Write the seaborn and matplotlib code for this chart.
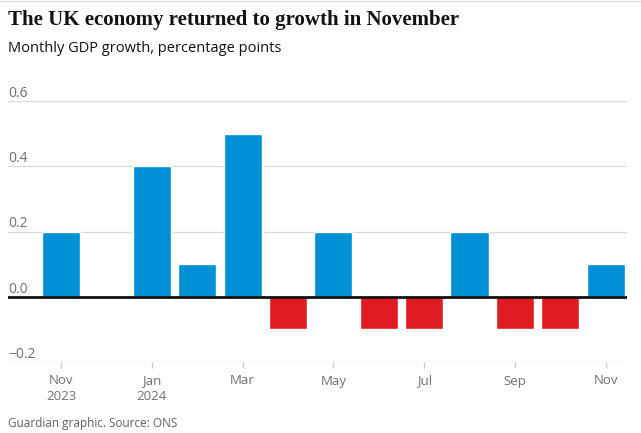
import matplotlib
matplotlib.use("Agg")
import matplotlib.pyplot as plt
import seaborn as sns
import pandas as pd

months = ["Nov 2023", "Dec 2023", "Jan 2024", "Feb 2024", "Mar 2024", "Apr 2024", "May 2024",
          "Jun 2024", "Jul 2024", "Aug 2024", "Sep 2024", "Oct 2024", "Nov 2024"]
growth = [0.2, 0.0, 0.4, 0.1, 0.5, -0.1, 0.2, -0.1, -0.1, 0.2, -0.1, -0.1, 0.1]
tick_labels = ["Nov\n2023", "", "Jan\n2024", "", "Mar", "", "May", "", "Jul", "", "Sep", "", "Nov"]
y_ticks = [-0.2, 0.0, 0.2, 0.4, 0.6]
y_tick_labels = ["\u22120.2", "0.0", "0.2", "0.4", "0.6"]

BLUE = "#0091d5"
RED = "#e01b22"

df = pd.DataFrame({"month": months, "growth": growth})
df["sign"] = ["neg" if v < 0 else "pos" for v in growth]

sns.set_style("white")
plt.rcParams["font.family"] = ["Open Sans", "DejaVu Sans"]

fig = plt.figure(figsize=(6.41, 4.33), dpi=100)
ax = fig.add_axes([8 / 641, 1 - 362 / 433, (627 - 8) / 641, (362 - 101) / 433])

sns.barplot(data=df, x="month", y="growth", hue="sign", order=months,
            palette={"pos": BLUE, "neg": RED}, width=0.84, dodge=False,
            legend=False, saturation=1, ax=ax, zorder=3)

ax.set_xlim(-1.17, 12.47)
ax.set_ylim(-0.2, 0.6)
ax.set_xlabel("")
ax.set_ylabel("")

for y in y_ticks:
    if y == 0:
        ax.axhline(0, color="#121212", lw=2, zorder=4)
    else:
        ax.axhline(y, color="#dcdcdc", lw=1, zorder=1)
for y, lab in zip(y_ticks, y_tick_labels):
    ax.text(0.0, y, lab, transform=ax.get_yaxis_transform(), ha="left", va="bottom",
            fontsize=10, color="#707070")
ax.set_yticks([])

for s in ax.spines.values():
    s.set_visible(False)

ax.set_xticks(range(len(months)))
ax.set_xticklabels(tick_labels, fontsize=9.5, color="#707070", linespacing=1.3)
ax.tick_params(axis="x", length=4, color="#cccccc", width=1, pad=5, bottom=True)
for t, lab in zip(ax.xaxis.get_major_ticks(), tick_labels):
    if lab == "":
        t.tick1line.set_visible(False)

fig.text(8 / 641, 1 - 20 / 433, "The UK economy returned to growth in November",
         fontsize=15, fontweight="bold", family=["Liberation Serif"], color="#121212",
         va="center", ha="left")
fig.text(8 / 641, 1 - 49 / 433, "Monthly GDP growth, percentage points",
         fontsize=10.5, color="#121212", va="center", ha="left")
fig.text(8 / 641, 1 - 423 / 433, "Guardian graphic. Source: ONS",
         fontsize=8.5, color="#606060", va="center", ha="left")
fig.add_artist(plt.Line2D([0, 1], [1 - 1 / 433, 1 - 1 / 433], color="#dcdcdc", lw=1,
                          transform=fig.transFigure))

fig.savefig("out.png", dpi=100)
